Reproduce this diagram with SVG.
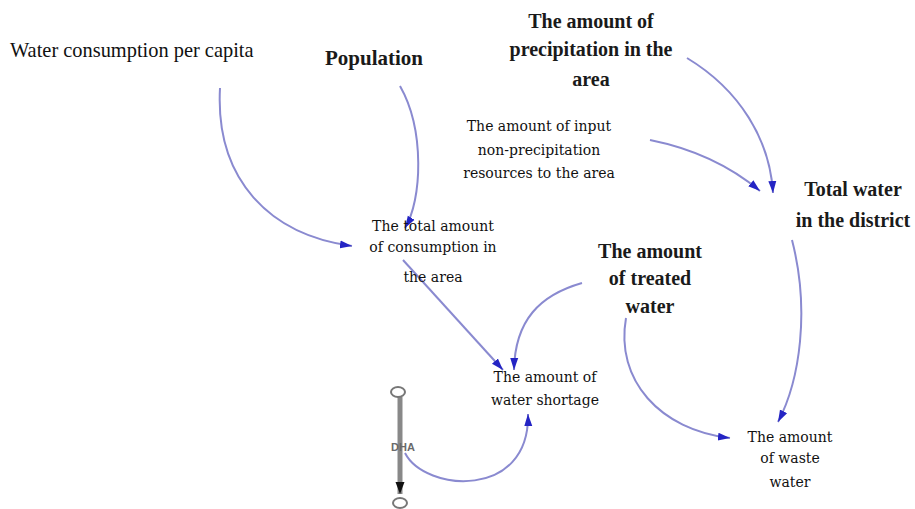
<svg xmlns="http://www.w3.org/2000/svg" width="915" height="509" viewBox="0 0 915 509">
<style>
.big{font-family:"Liberation Serif","Times New Roman",serif;font-size:20px;font-weight:bold;fill:#1a1a1a;text-anchor:middle}
.reg{font-family:"Liberation Serif","Times New Roman",serif;font-size:20.4px;fill:#111}
.sm{font-family:"DejaVu Serif",serif;font-size:14px;fill:#111;text-anchor:middle}
.lnk{fill:none;stroke:#8a8ad0;stroke-width:2;marker-end:url(#ah)}
</style>
<defs>
<marker id="ah" markerUnits="userSpaceOnUse" markerWidth="14" markerHeight="10" refX="12" refY="5" orient="auto">
<path d="M0,1 L12,5 L0,9 Z" fill="#2424c4"/>
</marker>
<marker id="ahk" markerUnits="userSpaceOnUse" markerWidth="14" markerHeight="10" refX="12" refY="5" orient="auto">
<path d="M0,0.5 L12,5 L0,9.5 Z" fill="#111"/>
</marker>
</defs>
<rect width="915" height="509" fill="#fff"/>
<g id="connectors">
<path class="lnk" d="M220,88 C215,180 270,235 352,246"/>
<path class="lnk" d="M400,86 C425,130 422,200 405,228"/>
<path class="lnk" d="M687,58 C740,90 770,140 773,193"/>
<path class="lnk" d="M650,140 C700,150 735,170 760,191"/>
<path class="lnk" d="M403,260 L503,370"/>
<path class="lnk" d="M582,283 C540,295 515,320 514,370"/>
<path class="lnk" d="M626,318 C615,380 660,430 730,438"/>
<path class="lnk" d="M792,240 C810,310 800,380 778,422"/>
<path class="lnk" d="M405,453 C425,492 530,500 528,414"/>
</g>
<g id="dha">
<line x1="400" y1="397" x2="400" y2="494" stroke="#888" stroke-width="5" marker-end="url(#ahk)"/>
<ellipse cx="398" cy="392" rx="7" ry="5" fill="#fff" stroke="#777" stroke-width="2"/>
<ellipse cx="400" cy="503" rx="7" ry="5" fill="#fff" stroke="#777" stroke-width="2"/>
<text x="403" y="451" font-family="Liberation Sans, Arial, sans-serif" font-size="11" font-weight="bold" fill="#6a6a6a" text-anchor="middle">DHA</text>
</g>
<g id="water-consumption-per-capita"><text class="reg" x="10" y="57">Water consumption per capita</text></g>
<g id="population"><text class="big" x="374" y="65" style="font-size:21px">Population</text></g>
<g id="precipitation"><text class="big" x="591" y="28">The amount of</text><text class="big" x="591" y="56">precipitation in the</text><text class="big" x="591" y="86">area</text></g>
<g id="input-non-precipitation"><text class="sm" x="539" y="131">The amount of input</text><text class="sm" x="539" y="155">non-precipitation</text><text class="sm" x="539" y="178">resources to the area</text></g>
<g id="total-water"><text class="big" x="853" y="196">Total water</text><text class="big" x="853" y="227">in the district</text></g>
<g id="total-consumption"><text class="sm" x="433" y="231">The total amount</text><text class="sm" x="433" y="252">of consumption in</text><text class="sm" x="433" y="282">the area</text></g>
<g id="treated-water"><text class="big" x="650" y="258">The amount</text><text class="big" x="650" y="285">of treated</text><text class="big" x="650" y="313">water</text></g>
<g id="water-shortage"><text class="sm" x="545" y="382">The amount of</text><text class="sm" x="545" y="405">water shortage</text></g>
<g id="waste-water"><text class="sm" x="790" y="442">The amount</text><text class="sm" x="790" y="463">of waste</text><text class="sm" x="790" y="487">water</text></g>
</svg>
